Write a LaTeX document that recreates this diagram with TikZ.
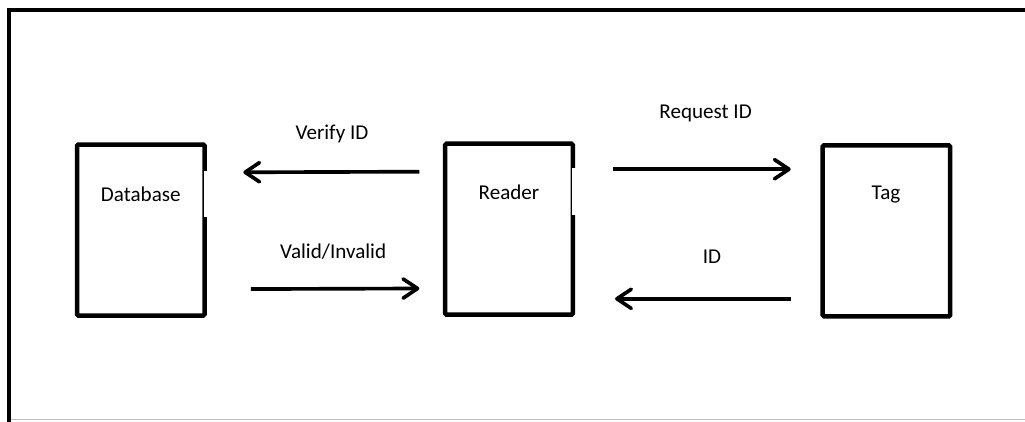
\documentclass[tikz,border=0pt]{standalone}
\usepackage{fontspec}
\usepackage{xcolor}
\setmainfont{Carlito}
\usetikzlibrary{arrows.meta}

\begin{document}
\begin{tikzpicture}[font=\fontsize{15}{18}\selectfont]
 \useasboundingbox (0,0) rectangle (25.625,-10.525);
 % outer frame
 \draw[line width=2.9pt] (0.225,-10.8) |- (25.8,-0.25);
 \draw[black!25, line width=1pt] (0.275,-10.49) -- (25.8,-10.49);

 \begin{scope}[every node/.append style={rectangle, draw=black, line width=3.2pt, minimum width=3.19cm, minimum height=4.275cm, rounded corners=1pt}]
    \node (db) at (3.52,-5.75) {};
    \node (rd) at (12.725,-5.73) {};
    \node (tag) at (22.16,-5.77) {};
 \end{scope}

 % breaks in the right edges
 \fill[white] ([xshift=-0.08cm,yshift=0.33cm]db.east) rectangle ([xshift=0.08cm,yshift=1.48cm]db.east);
 \fill[white] ([xshift=-0.08cm,yshift=0.36cm]rd.east) rectangle ([xshift=0.08cm,yshift=1.53cm]rd.east);

 \begin{scope}[every node/.append style={anchor=base}]
    \node (dbname) at (3.52,-5.04) {Database};
    \node (rdname) at (12.725,-4.99) {Reader};
    \node (tagname) at (22.15,-4.98) {Tag};

    \node (verify) at (8.3,-3.48) {Verify ID};
    \node (valid) at (8.33,-6.455) {Valid/Invalid};
    \node (request) at (17.64,-2.96) {Request ID};
    \node (idnote) at (17.8,-6.59) {ID};
 \end{scope}

 \begin{scope}[every path/.style={line width=2.6pt, -{Straight Barb[length=3.6mm,width=4.8mm,round]}}]
    \draw[shorten <=0.59cm, shorten >=0.91cm] ([yshift=1.44cm]rd.west) -- ([yshift=1.44cm]db.east);
    \draw[shorten <=1.1cm, shorten >=0.59cm] ([yshift=-1.48cm]db.east) -- ([yshift=-1.48cm]rd.east -| rd.west);
    \draw[shorten <=0.96cm, shorten >=0.74cm] ([yshift=1.5cm]rd.east) -- ([yshift=1.5cm]rd.east -| tag.west);
    \draw[shorten <=0.74cm, shorten >=1.0cm] ([yshift=-1.7cm]tag.west) -- ([yshift=-1.7cm]tag.west -| rd.east);
 \end{scope}
\end{tikzpicture}
\end{document}
